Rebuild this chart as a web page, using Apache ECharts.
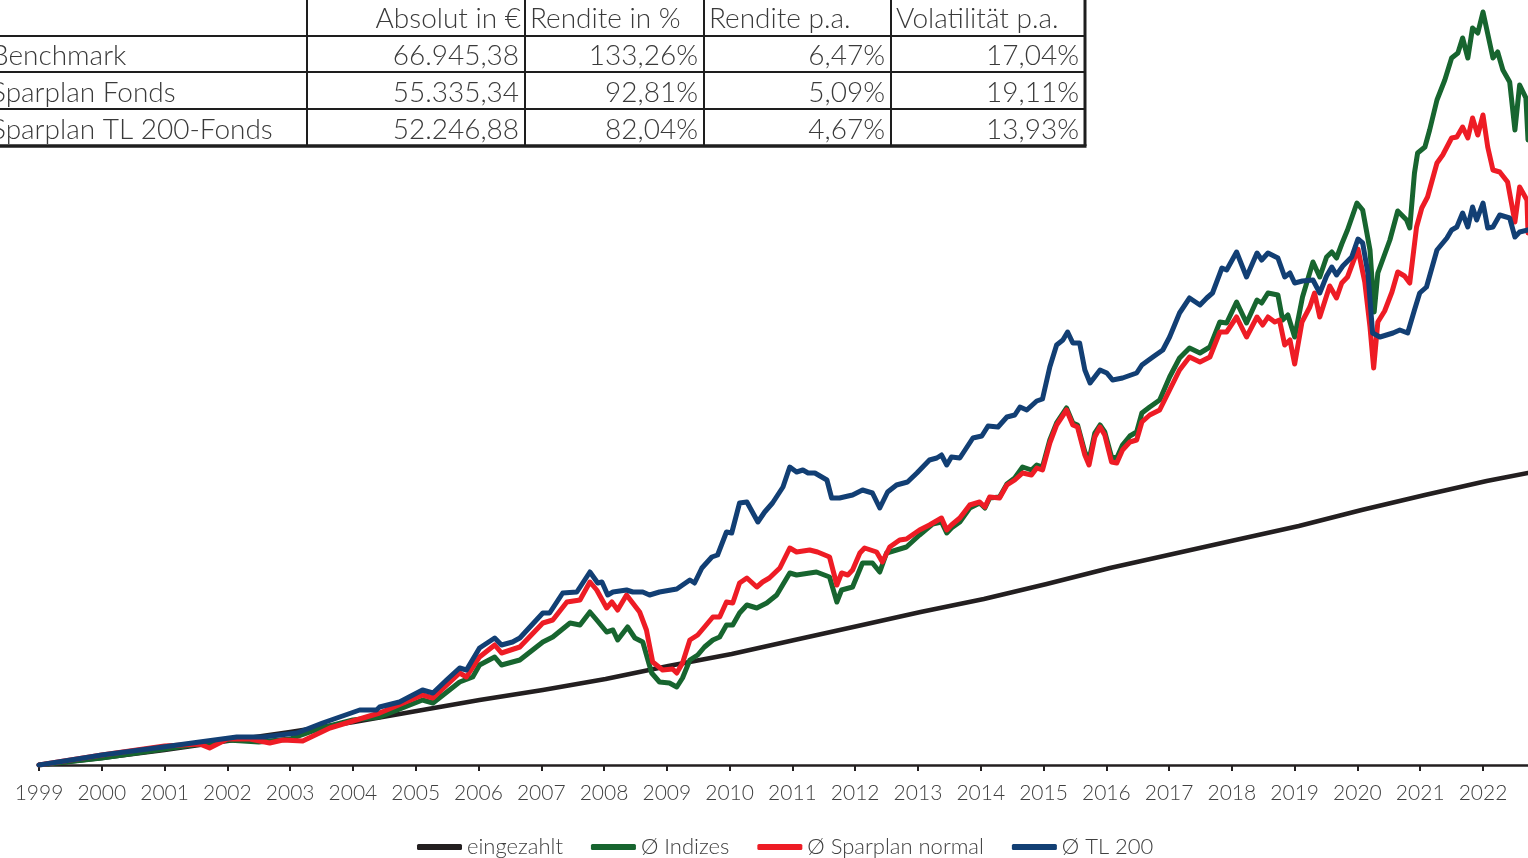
<!DOCTYPE html>
<html><head><meta charset="utf-8">
<script src="https://cdn.jsdelivr.net/npm/echarts@6/dist/echarts.min.js"></script>
<style>html,body{margin:0;padding:0;background:#fff}#c{width:1528px;height:858px}</style>
</head><body><div id="c"></div>
<script>
// x values: months since Jan 1999; y values: €
const yearLabels = ['1999','2000','2001','2002','2003','2004','2005','2006','2007','2008','2009','2010','2011','2012','2013','2014','2015','2016','2017','2018','2019','2020','2021','2022'];
const seriesNames = ['eingezahlt','Ø Indizes','Ø Sparplan normal','Ø TL 200'];

const eingezahltM = [0,12,24,36,48,60.2,72.2,84.2,96.3,108.3,120.3,132.4,144.4,156.5,168.5,180.6,192.6,204.7,216.7,228.7,240.8,252.8,264.9,276.7,284.6];
const eingezahltV = [0,700,1500,2400,3300,4300,5400,6500,7500,8600,9900,11100,12500,13900,15300,16600,18100,19700,21100,22500,23900,25500,27000,28400,29200];

const indizesM = [0,12,24,36,42,48,54,60,65.1,73.3,75.3,80.4,82.9,84.2,87.1,88.4,91.9,96.3,98.2,101.5,103.4,105.3,106.6,108.5,109.7,110.6,112.5,113.9,115.4,117.1,118.6,120.5,121.9,123,124.4,125.9,127.2,128.8,130.1,131.4,132.6,133.9,135.3,137.2,139.1,141,143.5,144.8,148.6,151.1,152.5,153.4,155.5,157.4,159.3,160.7,162,163.9,165.8,168.3,170.8,172.5,173.5,174.4,176,177.9,179.8,180.8,181.7,183.6,185,186.5,188,189.7,190.7,191.8,193.2,194.5,196.4,197.6,198.5,199.9,200.7,201.8,202.8,203.7,205,206,207.1,208.5,209.8,210.8,212.3,214.2,216.1,218,219.9,221.9,223.8,225.7,227,228.9,230.8,232.8,233.7,234.9,236.8,237.7,238.7,240,241.5,243.5,244.8,246.1,247.1,248,249,250.1,251.9,253,254.4,255.2,255.9,258.2,259.7,261.4,262,262.9,263.5,264.9,265.8,267.2,268.7,270,271.2,272.1,273.1,274,275,276,277.9,278.8,279.8,281.1,282.1,283,284.2,284.6];
const indizesV = [0,700,1600,2500,2300,2600,3700,4500,4800,6500,6200,8300,8800,10000,10800,10000,10500,12300,12800,14200,14000,15300,14500,13300,13500,12500,13800,12700,12300,9200,8300,8200,7800,8700,10500,11000,11800,12500,12800,14000,14000,15200,16000,15700,16200,17000,19200,19000,19300,18800,16300,17500,17800,20200,20200,19300,21200,21500,21800,23000,24100,24300,23200,23700,24300,25700,26200,25700,26700,26800,28100,28700,29800,29500,30000,29800,32500,34200,35700,34200,34000,31300,30500,33200,34000,33300,30800,30700,32000,32900,33300,35200,35800,36500,38800,40700,41700,41200,41800,44300,44200,46300,44200,46500,46200,47200,47000,44500,45000,42800,46800,50300,48800,50800,51300,50700,52100,53500,56200,55500,51500,45300,49200,52500,55400,54500,53700,59200,61200,61800,63500,66500,68500,70700,71200,72700,70700,73700,73200,75300,70700,71300,69500,68300,63500,68000,66700,62500];

const sparplanM = [0,12,24,30.7,32.6,36,40.3,44.1,46.6,50.4,55.6,61.9,65.1,73.3,75.3,80.4,81.7,84.2,87.1,88.4,91.9,96.3,98.2,100.9,103.4,105.3,106.6,108.5,109.5,110.6,112.3,114.8,116.1,117.3,119.2,121.1,121.9,123,124.4,125.9,127.2,128.8,130.1,131.4,132.6,133.9,135.3,137.2,138.3,139.6,141.6,143.5,144.8,147.3,148.8,150.2,151.1,152.5,153.4,154.6,155.5,156.9,157.8,160.1,161.2,162.6,164.5,165.8,168.3,170.2,172.5,173.5,174.4,176,177.9,179.8,180.8,181.7,183.6,185,186.5,188,189.7,190.7,191.8,193.2,194.5,196.4,197.6,198.5,199.9,200.7,201.8,202.8,203.7,205,206,207.1,208.5,209.8,210.8,212.3,214.2,216.1,218,219.9,221.9,223.8,225.7,227,228.9,230.8,232.8,233.9,234.9,236.2,237.1,238.1,239.1,240,241.4,242.9,243.8,244.8,246.7,248,249,250.1,252.1,253.4,254.4,255.1,255.9,257.2,258.6,259.7,261,262,263.3,264.3,265.4,267.2,268.3,270,271,272.1,273.1,274,275,276,276.9,277.9,279.2,280.7,282.1,283,284.4,284.6];
const sparplanV = [0,1000,1900,2100,1700,2600,2600,2200,2500,2400,3700,4700,5200,7000,6700,9200,8800,10800,12000,11200,11800,14200,14500,16300,16500,18300,17500,15700,16300,15500,17000,15300,13500,10300,9500,9600,9200,10200,12500,13000,13800,14800,14800,16300,16200,18200,18700,17800,18300,18700,19700,21700,21300,21500,21300,21000,20800,18000,19200,19000,19500,21200,21700,21300,20300,21800,22500,22600,23500,24000,24700,23500,24000,24700,26000,26300,25800,26800,26700,28000,28500,29200,29000,29700,29500,32200,34000,35500,34000,33800,31000,30000,32800,33800,33000,30300,30200,31500,32300,32500,34300,35000,35500,37500,39500,40800,40300,40800,43300,43300,44800,42800,44800,44000,44800,44300,44500,42000,42500,40100,44300,45800,47200,44800,47900,46700,48200,48800,51600,48300,43800,39700,44300,45400,47300,49300,48900,48200,53800,55700,56800,60200,61000,62700,62800,63800,62700,64700,63000,65000,61800,59500,59300,58300,54300,57800,56500,53200];

const tl200M = [0,9.7,12,23.7,30.7,37.8,42.8,49.3,54.2,61.3,64.5,65.1,68.9,73.3,75.3,77.9,80.4,81.7,84.2,87.1,88.4,90.5,91.9,93.3,96.3,97.6,100.1,102.8,105.3,106.8,107.6,108.7,109.7,112.3,113.5,115.4,116.7,118.6,121.9,124.4,125.3,126.7,128.6,129.7,131.4,132.4,133.9,135.3,137.4,138.7,140.2,142.2,143.5,144.8,146,147,148.3,150.6,151.5,153,155.5,157.4,159.3,160.7,162.2,163.9,166,167.8,170.2,171.6,172.5,173.5,174.4,176,178.5,180.2,181.4,183.3,185,186.5,187.5,188.8,190.7,191.8,193.2,194.5,195.7,196.6,197.6,198.9,199.9,200.9,202.8,204.1,205.2,207.1,209.8,210.8,212.9,214.8,216.1,218,219.9,221.9,223.2,224.3,226.1,227,228.9,230.8,232.8,233.7,234.9,236.8,238.1,239.1,240,241.5,243.5,244.8,246.1,247.1,248,249.2,250.9,252.1,253,254,254.9,256.3,258.8,260.1,261.6,262.9,263.9,265.2,267.2,269.1,270,271,272.1,273.1,274,274.8,276,276.9,277.9,279.2,281.1,282.1,283,284.6];
const tl200V = [0,800,1000,1800,2300,2800,2800,3200,4200,5500,5500,5800,6300,7500,7200,8500,9700,9500,11700,12700,12000,12300,12700,13500,15200,15200,17200,17300,19300,18200,18300,17000,17300,17500,17300,17300,17000,17300,17600,18500,18200,19700,20800,21000,23300,23200,26200,26300,24300,25300,26200,27800,29800,29300,29500,29200,29200,28500,26700,26700,27000,27500,27200,25700,27300,28000,28300,29200,30500,30700,31000,30000,30800,30700,32700,32900,33900,33800,34800,35000,35800,35500,36400,36600,39800,42000,42500,43300,42200,42200,39500,38200,39500,39200,38500,38700,39200,40000,40800,41500,42800,45200,46700,46000,46700,47200,49700,49500,51300,48800,51200,50500,51200,50700,48800,49200,48200,48400,48500,47200,48900,49800,49000,49900,50800,52600,52200,49200,43200,42800,43200,43500,43200,45500,47200,47800,51500,52700,53500,53800,55200,53800,55800,54500,56200,53700,53800,55000,54700,52800,53300,53500];

// table
const tableHeader = ['Absolut in €','Rendite in %','Rendite p.a.','Volatilität p.a.'];
const rowLabels = ['Benchmark','Sparplan Fonds','Sparplan TL 200-Fonds'];
const absolut = ['66.945,38','55.335,34','52.246,88'];
const renditeProzent = ['133,26%','92,81%','82,04%'];
const renditePa = ['6,47%','5,09%','4,67%'];
const volatilitaet = ['17,04%','19,11%','13,93%'];

const FONT = 'Lato, "Noto Sans", sans-serif';
const TXT = '#3a3a3a';
const colors = ['#231f20','#17652f','#ee1c25','#123f74'];

function zip(m, v){ const n = Math.min(m.length, v.length); const out=[]; for(let i=0;i<n;i++) out.push([m[i], v[i]]); return out; }

const chart = echarts.init(document.getElementById('c'), null, {renderer:'canvas'});

// table graphics
const colEdges = [307, 525, 704, 891, 1085];
const rowEdges = [0, 36, 72, 109, 146];
const g = [];
const lineCol = '#1e1e1e';
for (let i = 1; i < rowEdges.length; i++) {
  const last = i === rowEdges.length - 1;
  g.push({type:'line', shape:{x1:0, y1:rowEdges[i], x2:colEdges[4] + (last?1.5:0), y2:rowEdges[i]}, style:{stroke:lineCol, lineWidth: last?3.5:2}});
}
for (let j = 0; j < colEdges.length; j++) {
  const last = j === colEdges.length - 1;
  g.push({type:'line', shape:{x1:colEdges[j], y1:0, x2:colEdges[j], y2:rowEdges[4]}, style:{stroke:lineCol, lineWidth: last?3:2}});
}
const fs = 28;
function txt(s, x, y, align){ return {type:'text', x:x, y:y, style:{text:s, textAlign:align, textVerticalAlign:'middle', font: '300 ' + fs + 'px ' + FONT, fill: TXT}}; }
// header
g.push(txt(tableHeader[0], colEdges[1]-4, (rowEdges[0]+rowEdges[1])/2 + 1, 'right'));
for (let k = 1; k < 4; k++) g.push(txt(tableHeader[k], colEdges[k]+5, (rowEdges[0]+rowEdges[1])/2 + 1, 'left'));
const cols = [absolut, renditeProzent, renditePa, volatilitaet];
for (let r = 0; r < 3; r++) {
  const cy = (rowEdges[r+1]+rowEdges[r+2])/2 + 2;
  g.push(txt(rowLabels[r], -9, cy, 'left'));
  for (let k = 0; k < 4; k++) g.push(txt(cols[k][r], colEdges[k+1]-6, cy, 'right'));
}

const seriesData = [zip(eingezahltM, eingezahltV), zip(indizesM, indizesV), zip(sparplanM, sparplanV), zip(tl200M, tl200V)];

chart.setOption({
  animation: false,
  backgroundColor: '#ffffff',
  grid: {left: 39, right: 0, top: 0, bottom: 93, containLabel: false},
  xAxis: {
    type: 'value', min: 0, max: 284.6, interval: 12,
    axisLine: {show: true, lineStyle: {color: '#231f20', width: 2.5}},
    axisTick: {show: true, length: 6, lineStyle: {color: '#231f20', width: 2}},
    splitLine: {show: false},
    axisLabel: {
      show: true, margin: 18, fontSize: 21, color: '#404040', fontFamily: FONT, fontWeight: 300,
      showMaxLabel: false,
      formatter: function(v){ const i = Math.round(v/12); return (Math.abs(v - i*12) < 0.01 && yearLabels[i]) ? yearLabels[i] : ''; }
    }
  },
  yAxis: {type: 'value', min: 0, max: 76500, show: false, splitLine: {show:false}},
  legend: {
    left: 412, top: 831, itemWidth: 45, itemHeight: 6, itemGap: 28,
    icon: 'roundRect',
    textStyle: {fontSize: 22, color: '#404040', fontFamily: FONT, fontWeight: 300},
    data: seriesNames
  },
  series: seriesNames.map(function(name, i){
    return {
      name: name, type: 'line', data: seriesData[i], showSymbol: false, symbol: 'none',
      color: colors[i],
      lineStyle: {color: colors[i], width: i === 0 ? 4.5 : 5, join: 'round', cap: 'round'},
      z: 2 + i
    };
  }),
  graphic: g
});
</script></body></html>
